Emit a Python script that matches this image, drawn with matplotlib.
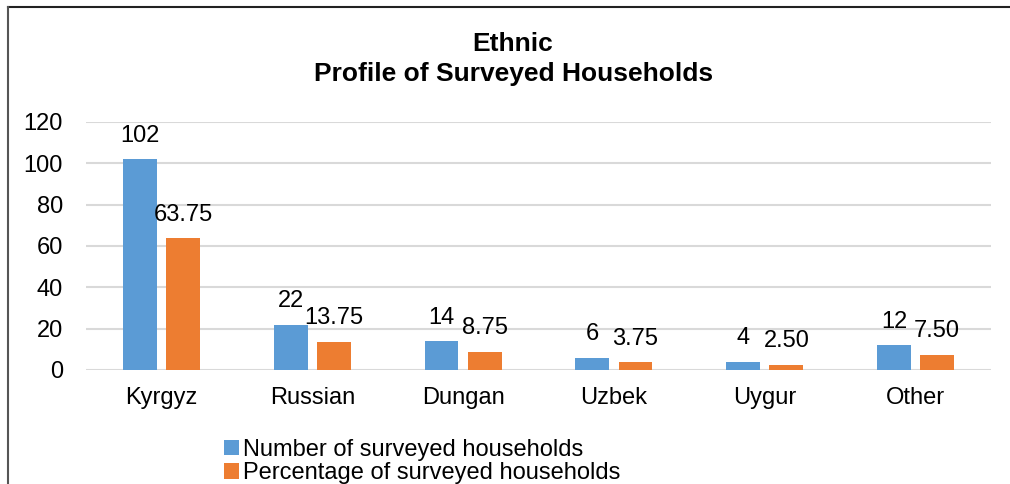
import numpy as np
import matplotlib
matplotlib.use('Agg')
import matplotlib.pyplot as plt
from matplotlib.lines import Line2D

plt.rcParams['font.family'] = ['Liberation Sans', 'DejaVu Sans']

# ── data ─────────────────────────────────────────────────────────────────────
groups = ['Kyrgyz', 'Russian', 'Dungan', 'Uzbek', 'Uygur', 'Other']
households = [102, 22, 14, 6, 4, 12]
percentage = [63.75, 13.75, 8.75, 3.75, 2.50, 7.50]
series_names = ['Number of surveyed households', 'Percentage of surveyed households']

BLUE = '#5B9BD5'
ORANGE = '#ED7D31'
W, H = 1010, 484
FS = 17

fig = plt.figure(figsize=(W / 100, H / 100), dpi=100)
ax = fig.add_axes([86 / W, 1 - 370 / H, (991 - 86) / W, (370 - 122) / H])

x = np.arange(len(groups))
bw = 0.225
off = 0.143
b1 = ax.bar(x - off, households, bw, color=BLUE, label=series_names[0], zorder=3)
b2 = ax.bar(x + off, percentage, bw, color=ORANGE, label=series_names[1], zorder=3)

ax.bar_label(b1, labels=[str(v) for v in households], padding=9, fontsize=FS)
ax.bar_label(b2, labels=[f'{v:.2f}' for v in percentage], padding=9, fontsize=FS)

ax.set_xlim(-0.5, len(groups) - 0.5)
ax.set_ylim(0, 120)
ax.set_yticks(range(0, 121, 20))
ax.set_xticks(x)
ax.set_xticklabels(groups)
ax.tick_params(axis='both', length=0, labelsize=FS)
ax.tick_params(axis='y', pad=16.5)
ax.tick_params(axis='x', pad=12)
ax.grid(axis='y', color='#D9D9D9', linewidth=1.5, zorder=0)
for s in ax.spines.values():
    s.set_visible(False)

fig.text(0.508, 1 - 44 / H, 'Ethnic', ha='center', va='center',
         fontsize=19, fontweight='bold')
fig.text(0.508, 1 - 74 / H, 'Profile of Surveyed Households', ha='center', va='center',
         fontsize=19, fontweight='bold')

fig.legend(handles=[b1, b2], loc='upper left', bbox_to_anchor=(224 / W, 1 - 439 / H),
           frameon=False, fontsize=FS, handlelength=0.62, handleheight=0.62,
           handletextpad=0.2, labelspacing=0.05, borderaxespad=0, borderpad=0)

# outer chart border (only top and left visible in the crop)
fig.add_artist(Line2D([8 / W, 1], [1 - 7 / H, 1 - 7 / H], color='#222222', lw=1.5,
                      transform=fig.transFigure))
fig.add_artist(Line2D([8 / W, 8 / W], [0, 1 - 7 / H], color='#555555', lw=1.5,
                      transform=fig.transFigure))

fig.savefig('out.png', dpi=100)
